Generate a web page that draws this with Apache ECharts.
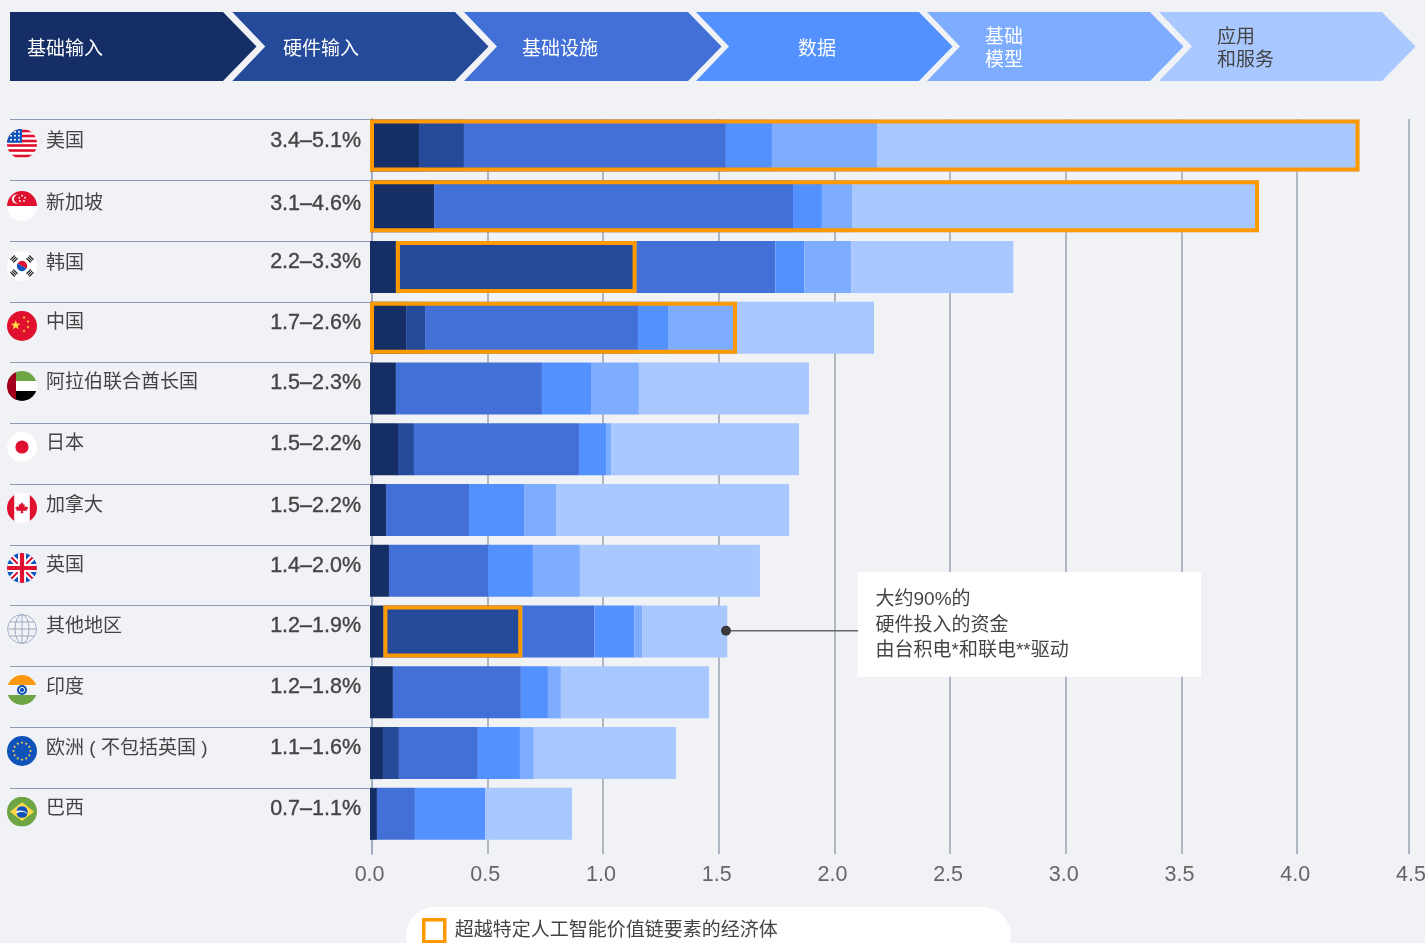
<!DOCTYPE html>
<html>
<head>
<meta charset="utf-8">
<title>AI value chain chart</title>
<style>html,body{margin:0;padding:0;background:#f0f2f6}#c{width:1425px;height:943px}</style>
<script src="https://cdn.jsdelivr.net/npm/echarts@6/dist/echarts.min.js"></script>
</head>
<body>
<div id="c"></div>
<script>
// ---- data ----
const countries = ['美国','新加坡','韩国','中国','阿拉伯联合酋长国','日本','加拿大','英国','其他地区','印度','欧洲 ( 不包括英国 )','巴西'];
const ranges = ['3.4–5.1%','3.1–4.6%','2.2–3.3%','1.7–2.6%','1.5–2.3%','1.5–2.2%','1.5–2.2%','1.4–2.0%','1.2–1.9%','1.2–1.8%','1.1–1.6%','0.7–1.1%'];
const stages = ['基础输入','硬件输入','基础设施','数据','基础模型','应用和服务'];
const basicInputs = [0.212,0.277,0.112,0.156,0.112,0.121,0.069,0.082,0.058,0.099,0.056,0.030];
const hardwareInputs = [0.194,0,1.040,0.082,0,0.069,0,0,0.600,0,0.069,0];
const infrastructure = [1.132,1.551,0.600,0.920,0.631,0.713,0.359,0.428,0.311,0.553,0.341,0.164];
const dataLayer = [0.199,0.125,0.125,0.130,0.212,0.117,0.238,0.194,0.173,0.117,0.182,0.303];
const foundationModels = [0.454,0.130,0.203,0.298,0.207,0.022,0.138,0.203,0.035,0.056,0.060,0];
const applications = [2.085,1.759,0.700,0.592,0.735,0.812,1.007,0.778,0.367,0.640,0.614,0.376];
// [row, first stage, last stage] of the orange outlines
const outlined = [[0,0,5],[1,0,5],[2,1,1],[3,0,4],[8,1,1]];
const legendText = '超越特定人工智能价值链要素的经济体';
const noteText = '大约90%的\n硬件投入的资金\n由台积电*和联电**驱动';

// ---- styling / layout ----
const stageValues = [basicInputs,hardwareInputs,infrastructure,dataLayer,foundationModels,applications];
const stageColors = ['#152e65','#254a9a','#4270d6','#5391ff','#7eadff','#a8c8ff'];
const font = '"Liberation Sans","Noto Sans CJK SC",sans-serif';
const ink = '#444444';
const unit = 231.4, band = 60.77, barH = 52;
const nameLift = [6,4.5,5.5,7,7.5,7,6,7,7,6.5,6.5,7];
const valueLift = [6,4,6.5,7,7.5,7,6,7,7.5,7.5,7,7];
const flagY = [143.7,206,266,326,386,447,508,568,629,690,751,811.7];
const liftStyle=(lift,align)=>({align,verticalAlign:'bottom',lineHeight:2*(lift-2)});

function star(cx,cy,r,rot){
  let p=[];for(let i=0;i<10;i++){const a=(rot||0)-Math.PI/2+i*Math.PI/5,q=i%2?r*0.42:r;p.push((cx+q*Math.cos(a)).toFixed(2)+','+(cy+q*Math.sin(a)).toFixed(2));}
  return `<polygon points="${p.join(' ')}" fill="#ffda44"/>`;
}
function ringStars(){let s='';for(let i=0;i<12;i++){const a=i*Math.PI/6;s+=star(15+8.5*Math.cos(a),15+8.5*Math.sin(a),1.6);}return s;}
function usFlag(){
  let s='<rect width="30" height="30" fill="#fff"/>';
  for(const y of [0,5,10,15,20,25.5]) s+=`<rect y="${y+ (y>12?0.5:1)}" width="30" height="2.6" fill="#e0102f"/>`;
  s+='<rect y="0" width="15" height="14" fill="#0f52ba"/>';
  for(let r=0;r<3;r++)for(let c=0;c<3;c++)s+=`<circle cx="${4+c*4}" cy="${3+r*4}" r="1" fill="#fff"/>`;
  return s;
}
function krTrigram(x,y,rot){
  let s=`<g transform="translate(${x} ${y}) rotate(${rot})" fill="#222">`;
  for(let i=0;i<3;i++)s+=`<rect x="-3" y="${-2.6+i*2}" width="6" height="1.2"/>`;
  return s+'</g>';
}
const flags = [
  usFlag(),
  '<rect width="30" height="30" fill="#fff"/><rect width="30" height="15" fill="#e0102f"/><circle cx="9.5" cy="8" r="4.6" fill="#fff"/><circle cx="11.3" cy="8" r="4.4" fill="#e0102f"/><circle cx="15" cy="4.7" r=".9" fill="#fff"/><circle cx="18" cy="6.7" r=".9" fill="#fff"/><circle cx="17" cy="10" r=".9" fill="#fff"/><circle cx="13" cy="10" r=".9" fill="#fff"/><circle cx="12.2" cy="6.8" r=".9" fill="#fff"/>',
  '<rect width="30" height="30" fill="#fff"/><g transform="rotate(30 15 15)"><path d="M9.8 15a5.2 5.2 0 0 1 10.4 0z" fill="#e0102f"/><path d="M9.8 15a5.2 5.2 0 0 0 10.4 0z" fill="#0f52ba"/></g>'+krTrigram(7,8,-45)+krTrigram(23,8,45)+krTrigram(7,22,45)+krTrigram(23,22,-45),
  '<rect width="30" height="30" fill="#e0102f"/>'+star(8.7,14.3,5)+star(17,6.5,1.7,0.4)+star(21,10.5,1.7,0.9)+star(21,16,1.7,0)+star(17,20,1.7,0.4),
  '<rect width="30" height="10" fill="#6da544"/><rect y="10" width="30" height="10" fill="#fff"/><rect y="20" width="30" height="10" fill="#000"/><rect width="9" height="30" fill="#a2001d"/>',
  '<rect width="30" height="30" fill="#fff"/><circle cx="15" cy="15" r="6.6" fill="#e0102f"/>',
  '<rect width="30" height="30" fill="#fff"/><rect width="7.2" height="30" fill="#e0102f"/><rect x="22.8" width="7.2" height="30" fill="#e0102f"/><path d="M15 9.3l1.5 2.4 1.3-.4-.4 3 1.8-1.2.5 1.2 1.5-.2-.6 2-.9.7.3 1H16l.3 2.4h-2.6l.3-2.4h-4.5l.3-1-.9-.7-.6-2 1.5.2.5-1.2 1.8 1.2-.4-3 1.3.4z" fill="#e0102f"/>',
  '<rect width="30" height="30" fill="#0f52ba"/><path d="M0 0L30 30M30 0L0 30" stroke="#fff" stroke-width="6"/><path d="M0 0L30 30M30 0L0 30" stroke="#e0102f" stroke-width="2"/><path d="M15 0V30M0 15H30" stroke="#fff" stroke-width="8"/><path d="M15 0V30M0 15H30" stroke="#e0102f" stroke-width="4.2"/>',
  '<g fill="none" stroke="#9fabc3" stroke-width="1"><circle cx="15" cy="15" r="14.5"/><ellipse cx="15" cy="15" rx="7" ry="14.5"/><path d="M15 .5V29.5M.5 15H29.5M2.5 8H27.5M2.5 22H27.5"/></g>',
  '<rect width="30" height="10" fill="#ff9811"/><rect y="10" width="30" height="10" fill="#f0f2f6"/><rect y="20" width="30" height="10" fill="#6da544"/><circle cx="15" cy="15" r="5" fill="#0f52ba"/><circle cx="15" cy="15" r="2.6" fill="none" stroke="#f0f2f6" stroke-width="1"/>',
  '<rect width="30" height="30" fill="#0f52ba"/>'+ringStars(),
  '<rect width="30" height="30" fill="#6da544"/><polygon points="15,5.6 27,15 15,24.4 3,15" fill="#ffda44"/><circle cx="15" cy="15" r="5.6" fill="#f0f2f6"/><path d="M9.5 14.2a5.6 5.6 0 0 1 11 0 l0 0a5.6 5.6 0 0 1 .4 2.6c-2.5-2.6-7-3.6-11.2-2.6z" fill="#0f52ba"/><path d="M9.6 16.7a5.6 5.6 0 0 0 10.8 .6c-2.6-2.3-6.8-2.6-10.8-.6z" fill="#0f52ba"/>'
];
function flagUrl(body,i){
  const svg=`<svg xmlns="http://www.w3.org/2000/svg" width="120" height="120" viewBox="0 0 30 30"><defs><clipPath id="c${i}"><circle cx="15" cy="15" r="15"/></clipPath></defs><g clip-path="url(#c${i})">${body}</g></svg>`;
  return 'data:image/svg+xml;charset=utf-8,'+encodeURIComponent(svg);
}

// header chevrons
const chevrons=[
  {x0:10,x1:223,notch:0,fill:stageColors[0],label:'基础输入',tx:27,color:'#fff'},
  {x0:232.3,x1:455,notch:33,fill:stageColors[1],label:'硬件输入',tx:283,color:'#fff'},
  {x0:464,x1:688,notch:33,fill:stageColors[2],label:'基础设施',tx:522,color:'#fff'},
  {x0:696,x1:919,notch:33,fill:stageColors[3],label:'数据',tx:798,color:'#fff'},
  {x0:927,x1:1150,notch:33,fill:stageColors[4],label:'基础\n模型',tx:985,color:'#fff'},
  {x0:1159,x1:1382,notch:33,fill:stageColors[5],label:'应用\n和服务',tx:1217,color:ink}
];
const g=[];
chevrons.forEach(c=>{
  const t=12,b=81,m=46.5,tip=c.x1+33.5;
  const pts=[[c.x0,t],[c.x1,t],[tip,m],[c.x1,b],[c.x0,b]];
  if(c.notch)pts.push([c.x0+c.notch,m]);
  g.push({type:'polygon',shape:{points:pts},style:{fill:c.fill},silent:true});
  g.push({type:'text',x:c.tx,y:49.5,style:{text:c.label,font:'19px '+font,fill:c.color,verticalAlign:'middle',align:'left',lineHeight:23},silent:true});
});
flags.forEach((body,i)=>{
  g.push({type:'image',x:7,y:flagY[i]-15,style:{image:flagUrl(body,i),x:0,y:0,width:30,height:30},silent:true,z:5});
});
// annotation
g.push({type:'rect',shape:{x:857.7,y:572,width:343.3,height:104.7},style:{fill:'#fff'},z:6,silent:true});
g.push({type:'line',shape:{x1:726,y1:630.8,x2:858,y2:630.8},style:{stroke:'#666',lineWidth:1.5},z:7,silent:true});
g.push({type:'circle',shape:{cx:726,cy:630.8,r:5},style:{fill:'#3a3a3a'},z:7,silent:true});
g.push({type:'text',x:875.5,y:625.5,style:{text:noteText,font:'19px '+font,fill:ink,lineHeight:25.5,verticalAlign:'middle',align:'left'},z:7,silent:true});

const barSeries=stages.map((name,si)=>({
  name,type:'bar',stack:'total',xAxisIndex:1,yAxisIndex:1,barWidth:barH,silent:true,
  itemStyle:{color:stageColors[si]},data:stageValues[si],animation:false
}));
const outlineSeries={
  name:legendText,type:'custom',xAxisIndex:1,yAxisIndex:1,silent:true,z:4,animation:false,
  encode:{x:[1,2],y:0},
  data:outlined.map(o=>{
    const row=o[0];let a=0,b=0;
    for(let s=0;s<=o[2];s++){if(s<o[1])a+=stageValues[s][row];b+=stageValues[s][row];}
    return [row,a,b];
  }),
  renderItem(params,api){
    const p0=api.coord([api.value(1),api.value(0)]),p1=api.coord([api.value(2),api.value(0)]);
    const lw=4;
    return {type:'rect',shape:{x:p0[0]+lw/2,y:p0[1]-barH/2+lw/2,width:p1[0]-p0[0]-lw,height:barH-lw},
      style:{fill:'none',stroke:'#ff9900',lineWidth:lw}};
  },
  itemStyle:{color:'#fff',borderColor:'#ff9900',borderWidth:3.5}
};
const lastLine={
  type:'line',xAxisIndex:0,yAxisIndex:0,data:[],silent:true,animation:false,
  markLine:{silent:true,symbol:'none',animation:false,label:{show:false},
    lineStyle:{color:'#9aa3b2',width:1.5,type:'solid'},data:[{xAxis:4.477}]}
};

const option={
  backgroundColor:'#f0f2f6',animation:false,
  textStyle:{fontFamily:font},
  grid:[
    {left:371.6,top:119,width:4.5*unit,height:735,outerBoundsMode:'none'},
    {left:370,top:145.4-band/2,width:4.5*unit,height:band*12,outerBoundsMode:'none'},
    {left:10,top:119.5,width:360,height:band*12,outerBoundsMode:'none'}
  ],
  xAxis:[
    {gridIndex:0,type:'value',min:0,max:4.5,interval:0.5,axisLine:{show:false},axisTick:{show:false},
     splitLine:{show:true,showMinLine:false,showMaxLine:false,lineStyle:{color:'#9aa3b2',width:1.5}},
     axisLabel:{show:true,showMaxLabel:true,showMinLabel:true,margin:10,fontSize:21.5,color:'#666',fontFamily:font,padding:[0,4,0,0],formatter:v=>v.toFixed(1)}},
    {gridIndex:1,type:'value',min:0,max:4.5,show:false},
    {gridIndex:2,type:'value',min:0,max:1,show:false}
  ],
  yAxis:[
    {gridIndex:0,type:'value',min:0,max:1,position:'left',offset:1.6,axisLine:{show:true,lineStyle:{color:'#a3adbf',width:2}},axisTick:{show:false},axisLabel:{show:false},splitLine:{show:false}},
    {gridIndex:1,type:'category',inverse:true,position:'left',
     data:countries.map((c,i)=>({value:c,textStyle:liftStyle(nameLift[i],'left')})),
     axisLine:{show:false},axisTick:{show:false},splitLine:{show:false},
     axisLabel:{show:true,interval:0,align:'left',margin:324,fontSize:19,color:ink,fontFamily:font}},
    {gridIndex:1,type:'category',inverse:true,position:'left',
     data:ranges.map((c,i)=>({value:c,textStyle:liftStyle(valueLift[i],'right')})),
     axisLine:{show:false},axisTick:{show:false},splitLine:{show:false},
     axisLabel:{show:true,interval:0,align:'right',margin:9,fontSize:21.5,color:ink,fontFamily:font,textBorderColor:ink,textBorderWidth:0.35}},
    {gridIndex:2,type:'value',inverse:true,min:0,max:12,interval:1,axisLine:{show:false},axisTick:{show:false},axisLabel:{show:false},
     splitLine:{show:true,showMinLine:true,showMaxLine:false,lineStyle:{color:'#8e9bb1',width:1}}}
  ],
  legend:{
    left:406,top:907,orient:'horizontal',selectedMode:false,data:[{name:legendText,icon:'rect'}],
    backgroundColor:'#fff',borderRadius:28,padding:[11,233,22,16],itemWidth:21,itemHeight:22,
    textStyle:{fontSize:19,color:ink,fontFamily:font,padding:[0,0,0,5]},
    itemStyle:{color:'#fff',borderColor:'#ff9900',borderWidth:3.5}
  },
  series:[lastLine].concat(barSeries,[outlineSeries]),
  graphic:{elements:g}
};
const chart=echarts.init(document.getElementById('c'),null,{renderer:'canvas',width:1425,height:943});
chart.setOption(option);
</script>
</body>
</html>
